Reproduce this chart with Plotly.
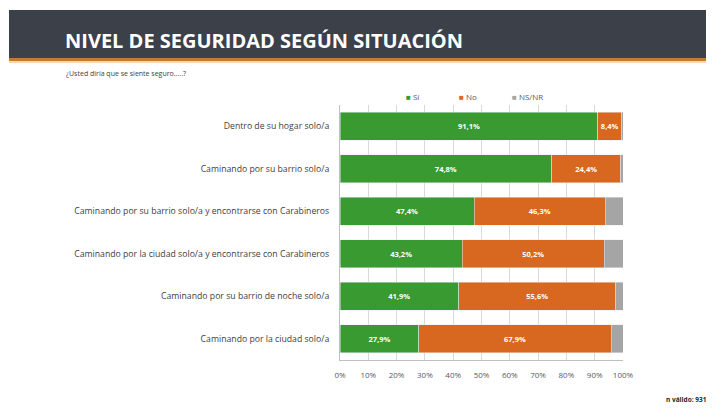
import plotly.graph_objs as go

# data, top row first
situaciones = [
    'Dentro de su hogar solo/a',
    'Caminando por su barrio solo/a',
    'Caminando por su barrio solo/a y encontrarse con Carabineros',
    'Caminando por la ciudad solo/a y encontrarse con Carabineros',
    'Caminando por su barrio de noche solo/a',
    'Caminando por la ciudad solo/a',
]
si = [91.1, 74.8, 47.4, 43.2, 41.9, 27.9]
no = [8.4, 24.4, 46.3, 50.2, 55.6, 67.9]
nsnr = [0.5, 0.8, 6.3, 6.6, 2.5, 4.2]
series = ['Sí', 'No', 'NS/NR']
colores = ['#3a9a32', '#d8671f', '#a5a5a5']
ticks = [0, 10, 20, 30, 40, 50, 60, 70, 80, 90, 100]

# the page body has an 8px margin, so the figure starts at (8, 8) in the window
OFF = 8
W, H = 714 - OFF, 418 - OFF
# plot area in window pixels: x 340..623, y 105..360
L, R, T, B = 340 - OFF, 714 - 623, 105 - OFF, 418 - 360
pw, ph = W - L - R, H - T - B


def px(x):
    # x in window pixels -> paper coords
    return (x - OFF - L) / pw


def py(y):
    return (H - B - (y - OFF)) / ph


def lab(vals):
    return [('%.1f' % v).replace('.', ',') + '%' for v in vals]


label_font = dict(family='Open Sans', size=7.5, color='white', weight='bold')

fig = go.Figure()
fig.add_trace(go.Bar(y=situaciones, x=si, name=series[0], orientation='h',
                     marker_color=colores[0], text=lab(si), textposition='inside',
                     insidetextanchor='middle', textfont=label_font))
fig.add_trace(go.Bar(y=situaciones, x=no, name=series[1], orientation='h',
                     marker_color=colores[1], text=lab(no), textposition='inside',
                     insidetextanchor='middle', textfont=label_font))
fig.add_trace(go.Bar(y=situaciones, x=nsnr, name=series[2], orientation='h',
                     marker_color=colores[2]))

fig.update_layout(
    width=W, height=H,
    barmode='stack', bargap=0.34,
    margin=dict(l=L, r=R, t=T, b=B),
    paper_bgcolor='white', plot_bgcolor='white',
    font=dict(family='Open Sans', color='#595959'),
    uniformtext=dict(minsize=6, mode='show'),
    showlegend=False,
    xaxis=dict(range=[0, 100], tickvals=ticks, ticktext=['%d%%' % t for t in ticks],
               showgrid=True, gridcolor='#d9d9d9', zeroline=False, showline=True,
               linecolor='#bfbfbf', ticks='', ticklabelstandoff=7,
               tickfont=dict(size=8, color='#595959'), fixedrange=True),
    yaxis=dict(autorange='reversed', showline=True, linecolor='#bfbfbf',
               ticks='', ticklabelstandoff=8,
               tickfont=dict(size=8.7, color='#404040'), fixedrange=True),
)

# legend drawn as text with small squares
for i, (name, col) in enumerate(zip(series, colores)):
    fig.add_annotation(text='<span style="color:%s">■</span> %s' % (col, name),
                       xref='paper', yref='paper', x=px(404 + 53 * i), y=py(97),
                       xanchor='left', yanchor='middle', showarrow=False,
                       font=dict(family='Open Sans', size=8, color='#595959'))

# header band
fig.add_shape(type='rect', xref='paper', yref='paper', x0=px(9), x1=px(720),
              y0=py(58), y1=py(10), fillcolor='#3b4049', line_width=0, layer='below')
fig.add_shape(type='rect', xref='paper', yref='paper', x0=px(9), x1=px(720),
              y0=py(61), y1=py(58), fillcolor='#c87a2c', line_width=0, layer='below')
fig.add_shape(type='rect', xref='paper', yref='paper', x0=px(9), x1=px(720),
              y0=py(63), y1=py(61), fillcolor='#f3d9b5', line_width=0, layer='below')

fig.add_annotation(text='NIVEL DE SEGURIDAD SEGÚN SITUACIÓN', xref='paper', yref='paper',
                   x=px(63), y=py(40), xanchor='left', yanchor='middle', showarrow=False,
                   font=dict(family='Open Sans', size=20, color='white', weight='bold'))
fig.add_annotation(text='¿Usted diría que se siente seguro.....?', xref='paper', yref='paper',
                   x=px(64), y=py(73), xanchor='left', yanchor='middle', showarrow=False,
                   font=dict(family='Open Sans', size=7, color='#404040'))
fig.add_annotation(text='n válido: 931', xref='paper', yref='paper',
                   x=px(708), y=py(399), xanchor='right', yanchor='middle', showarrow=False,
                   font=dict(family='Open Sans', size=6.5, color='#262626', weight='bold'))

fig.write_html('out.html')
